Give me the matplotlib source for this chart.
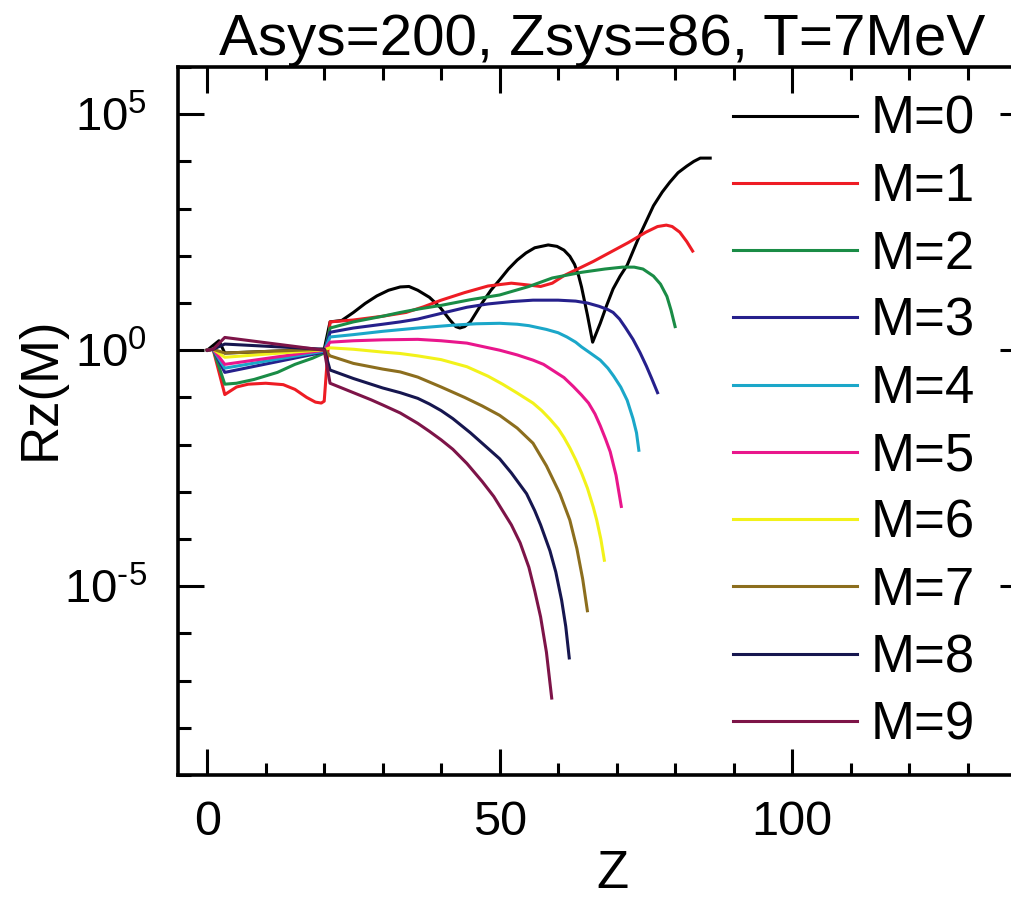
import matplotlib
matplotlib.use('Agg')
import matplotlib.pyplot as plt
import numpy as np
from matplotlib.ticker import FixedLocator, MultipleLocator, NullFormatter

plt.rcParams['font.family'] = ['Liberation Sans', 'DejaVu Sans']
plt.rcParams['mathtext.fontset'] = 'custom'
plt.rcParams['mathtext.rm'] = 'Liberation Sans'
plt.rcParams['mathtext.it'] = 'Liberation Sans:italic'
plt.rcParams['mathtext.bf'] = 'Liberation Sans:bold'

# charge Z and log10 of Rz(M)
z_m0 = [0, 1, 2, 3, 20, 21, 23, 25, 27, 29, 31, 33, 34.5, 36, 38, 39.8, 41.5, 42.5, 43.2, 44, 45,
        47, 48.5, 50, 51.5, 53, 54.5, 56, 58.3, 59.8, 61, 62, 62.8, 63.5, 64, 65, 65.9, 67.2,
        68.3, 69.4, 70.6, 71.8, 74, 76.3, 77.8, 79.1, 80.5, 82, 83.2, 84.3, 86]
lg_m0 = [0, 0.1, 0.2, -0.06, 0.02, 0.6, 0.63, 0.8, 0.99, 1.15, 1.27, 1.34, 1.35, 1.27, 1.12, 0.91,
         0.64, 0.5, 0.47, 0.5, 0.6, 1.0, 1.27, 1.49, 1.72, 1.91, 2.06, 2.17, 2.23, 2.2, 2.12, 1.99,
         1.82, 1.58, 1.34, 0.75, 0.17, 0.57, 0.95, 1.3, 1.57, 1.8, 2.45, 3.06, 3.35, 3.56, 3.76,
         3.9, 4.0, 4.07, 4.07]

z_m1 = [0, 1, 3, 4, 5, 7, 10, 13, 15, 17, 18.5, 19.5, 20, 21, 25, 30, 34, 37, 40, 44, 48, 52,
        55, 57, 59, 61, 63, 66, 69, 72, 75, 77, 78.5, 79.5, 80.8, 82, 83]
lg_m1 = [0, 0.02, -0.94, -0.86, -0.78, -0.72, -0.70, -0.73, -0.83, -1.0, -1.1, -1.12, -1.08,
         0.6, 0.64, 0.72, 0.8, 0.92, 1.06, 1.22, 1.36, 1.42, 1.38, 1.35, 1.42, 1.58, 1.70, 1.88,
         2.08, 2.28, 2.5, 2.62, 2.65, 2.62, 2.5, 2.3, 2.1]

z_m2 = [0, 1, 3, 5, 8, 12, 15, 18, 20, 21, 25, 30, 33, 36, 40, 45, 50, 55, 59, 64, 68, 71, 73,
        74.5, 76.3, 77.5, 78.6, 79.3, 80]
lg_m2 = [0, 0.02, -0.72, -0.70, -0.62, -0.47, -0.3, -0.17, -0.06, 0.47, 0.6, 0.72, 0.8, 0.87,
         0.95, 1.07, 1.17, 1.35, 1.53, 1.65, 1.72, 1.76, 1.76, 1.72, 1.57, 1.4, 1.14, 0.85, 0.5]

z_m3 = [0, 1, 3, 20, 21, 25, 30, 33, 36, 40, 44.4, 48, 52, 55.7, 60, 63, 65, 67, 68.5, 69.4,
        70.5, 71.5, 72.8, 74, 75.1, 76, 77]
lg_m3 = [0, 0.02, -0.47, -0.04, 0.38, 0.47, 0.55, 0.6, 0.66, 0.78, 0.91, 0.98, 1.03, 1.06, 1.06,
         1.04, 1.0, 0.93, 0.86, 0.8, 0.66, 0.48, 0.23, -0.05, -0.34, -0.6, -0.9]

z_m4 = [0, 1, 3, 20, 21, 25, 30, 36, 42, 46, 50, 53, 55, 58, 60, 61.5, 63, 64, 65.5, 67.2, 68.5,
        69.5, 70.7, 71.8, 72.8, 73.4, 73.8]
lg_m4 = [0, 0.02, -0.38, -0.02, 0.28, 0.33, 0.4, 0.47, 0.53, 0.56, 0.57, 0.55, 0.52, 0.44, 0.37,
         0.28, 0.17, 0.07, -0.06, -0.21, -0.38, -0.55, -0.78, -1.06, -1.45, -1.75, -2.12]

z_m5 = [0, 1, 3, 20, 21, 25, 30, 36, 40, 44.4, 47, 50, 53, 55.7, 57.5, 59, 61, 62.6, 64, 65.2,
        66.3, 67.2, 68.1, 68.9, 69.9, 70.8]
lg_m5 = [0, 0.02, -0.3, 0.0, 0.17, 0.2, 0.22, 0.23, 0.2, 0.15, 0.08, 0.0, -0.1, -0.21, -0.3,
         -0.42, -0.58, -0.77, -0.95, -1.12, -1.35, -1.6, -1.88, -2.15, -2.65, -3.31]

z_m6 = [0, 1, 3, 20, 21, 25, 30, 33, 36, 40, 44.4, 48, 50.5, 52.9, 55.7, 57.2, 58.6, 60, 61, 62,
        63, 64, 65, 66, 66.6, 67.3, 67.9]
lg_m6 = [0, 0.02, -0.15, 0.01, 0.05, 0.02, -0.04, -0.07, -0.12, -0.2, -0.35, -0.55, -0.72, -0.9,
         -1.12, -1.28, -1.46, -1.66, -1.85, -2.07, -2.32, -2.6, -2.92, -3.32, -3.6, -4.0, -4.45]

z_m7 = [0, 1, 3, 20, 21, 25, 30, 33, 36, 40, 44, 47, 50, 53, 55.7, 58, 60.3, 62, 63.2, 64.2, 65]
lg_m7 = [0, 0.02, -0.06, 0.02, -0.12, -0.28, -0.4, -0.46, -0.57, -0.78, -1.0, -1.18, -1.38,
         -1.65, -1.97, -2.45, -3.04, -3.6, -4.2, -4.85, -5.52]

z_m8 = [0, 1, 3, 20, 21, 25, 30, 33, 36, 38, 40, 42, 45, 47, 50, 52, 54.6, 56, 57, 58.6, 59.6,
        60.6, 61.3, 61.9]
lg_m8 = [0, 0.02, 0.13, 0.02, -0.42, -0.6, -0.8, -0.9, -1.02, -1.14, -1.28, -1.45, -1.75, -1.97,
         -2.3, -2.6, -3.04, -3.4, -3.7, -4.25, -4.7, -5.3, -5.85, -6.52]

z_m9 = [0, 1, 3, 20, 21, 25, 28, 30, 33, 36, 38, 40, 42, 44.4, 47, 49, 50, 52, 53.5, 55, 56, 57,
        58, 58.9]
lg_m9 = [0, 0.02, 0.27, 0.0, -0.7, -0.9, -1.05, -1.16, -1.33, -1.55, -1.72, -1.9, -2.1, -2.4,
         -2.78, -3.1, -3.3, -3.7, -4.08, -4.6, -5.1, -5.65, -6.4, -7.37]

labels = ['M=0', 'M=1', 'M=2', 'M=3', 'M=4', 'M=5', 'M=6', 'M=7', 'M=8', 'M=9']
colors = ['#000000', '#ee1c24', '#1a8c46', '#26208c', '#1ba7c9',
          '#e9168c', '#f2f21a', '#8c6e1e', '#16164f', '#7d1448']
ytick_vals = [1e-5, 1e0, 1e5]
ytick_labels = [r'$10^{\text{-5}}$', r'$10^{0}$', r'$10^{5}$']
xtick_vals = [0, 50, 100]

curves = [(z_m0, lg_m0), (z_m1, lg_m1), (z_m2, lg_m2), (z_m3, lg_m3), (z_m4, lg_m4),
          (z_m5, lg_m5), (z_m6, lg_m6), (z_m7, lg_m7), (z_m8, lg_m8), (z_m9, lg_m9)]

fig = plt.figure(figsize=(10.12, 9), dpi=100)
ax = fig.add_axes([178 / 1012, 125 / 900, 848 / 1012, 708 / 900])

for (z, lg), c, lab in zip(curves, colors, labels):
    ax.plot(z, 10 ** np.array(lg), color=c, lw=2.2, label=lab, solid_joinstyle='round')

ax.set_yscale('log')
ax.set_xlim(-5, 140)
ax.set_ylim(1e-9, 1e6)

ax.xaxis.set_major_locator(FixedLocator(xtick_vals))
ax.xaxis.set_minor_locator(MultipleLocator(10))
ax.yaxis.set_major_locator(FixedLocator(ytick_vals))
ax.yaxis.set_minor_locator(FixedLocator([10.0 ** k for k in range(-9, 7) if k not in (-5, 0, 5)]))
ax.yaxis.set_minor_formatter(NullFormatter())
ax.set_yticklabels(ytick_labels)
ax.set_xticklabels([str(v) for v in xtick_vals])

ax.tick_params(which='both', direction='in', top=True, right=True, width=2.2)
ax.tick_params(which='major', length=19)
ax.tick_params(which='minor', length=9)
ax.tick_params(axis='x', pad=18, labelsize=35)
ax.tick_params(axis='y', pad=22, labelsize=34)
for s in ax.spines.values():
    s.set_linewidth(2.6)

ax.set_title('Asys=200, Zsys=86, T=7MeV', fontsize=42, pad=9)
ax.set_xlabel('Z', fontsize=38, va='baseline')
ax.xaxis.set_label_coords(0.512, (775 - 888) / 708)
ax.set_ylabel('Rz(M)', fontsize=38)
ax.yaxis.set_label_coords((66 - 178) / 848, 0.546)

ax.legend(loc='upper left', bbox_to_anchor=(733 / 1012, 1 - 95 / 900),
          bbox_transform=fig.transFigure, frameon=False, fontsize=38,
          handlelength=2.35, handletextpad=0.25, labelspacing=0.327,
          borderpad=0, borderaxespad=0)

fig.savefig('out.png', dpi=100)
